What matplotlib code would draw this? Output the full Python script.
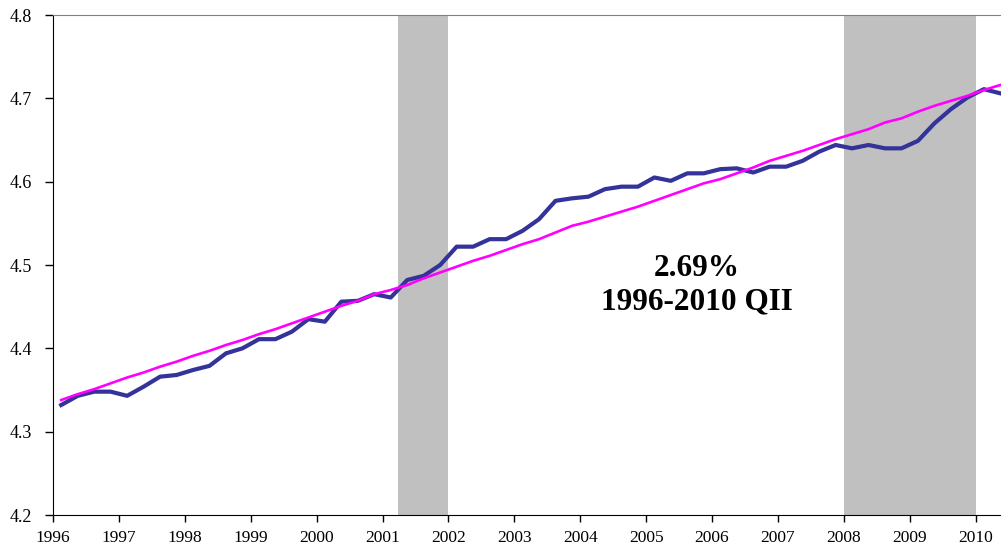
import numpy as np
import matplotlib
matplotlib.use('Agg')
import matplotlib.pyplot as plt

# quarterly data, 1996 QI .. 2010 QII (plotted at mid-quarter)
start_year = 1996
n_quarters = 58
log_gdp = [4.332, 4.343, 4.348, 4.348, 4.343, 4.354, 4.366, 4.368, 4.374, 4.379,
           4.394, 4.400, 4.411, 4.411, 4.420, 4.435, 4.432, 4.456, 4.457, 4.465,
           4.461, 4.482, 4.487, 4.500, 4.522, 4.522, 4.531, 4.531, 4.541, 4.555,
           4.577, 4.580, 4.582, 4.591, 4.594, 4.594, 4.605, 4.601, 4.610, 4.610,
           4.615, 4.616, 4.611, 4.618, 4.618, 4.625, 4.636, 4.644, 4.640, 4.644,
           4.640, 4.640, 4.649, 4.670, 4.687, 4.701, 4.711, 4.706]
trend = [4.338, 4.345, 4.351, 4.358, 4.365, 4.371, 4.378, 4.384, 4.391, 4.397,
         4.404, 4.410, 4.417, 4.423, 4.430, 4.437, 4.444, 4.451, 4.457, 4.465,
         4.470, 4.476, 4.484, 4.491, 4.498, 4.505, 4.511, 4.518, 4.525, 4.531,
         4.539, 4.547, 4.552, 4.558, 4.564, 4.570, 4.577, 4.584, 4.591, 4.598,
         4.603, 4.610, 4.617, 4.625, 4.631, 4.637, 4.644, 4.651, 4.657, 4.663,
         4.671, 4.676, 4.684, 4.691, 4.697, 4.703, 4.710, 4.716]
recessions = [(2001.23, 2002.0), (2008.0, 2010.0)]
year_ticks = list(range(1996, 2011))
y_ticks = [4.2, 4.3, 4.4, 4.5, 4.6, 4.7, 4.8]
label = '2.69%\n1996-2010 QII'

t = start_year + 0.125 + 0.25 * np.arange(n_quarters)

fig = plt.figure(figsize=(10.01, 5.52), dpi=100)
ax = fig.add_axes([53 / 1001, 1 - 515 / 552, 948 / 1001, 500 / 552])

for a, b in recessions:
    ax.axvspan(a, b, color='#c0c0c0', lw=0, zorder=1)

ax.plot(t, trend, color='#ff00ff', lw=1.9, zorder=3)
ax.plot(t, log_gdp, color='#333399', lw=3.0, zorder=2)

ax.set_xlim(1996, 2010.385)
ax.set_ylim(4.2, 4.8)
ax.set_xticks(year_ticks)
ax.set_xticklabels([str(y) for y in year_ticks])
ax.set_yticks(y_ticks)
ax.set_yticklabels(['%.1f' % v for v in y_ticks])

for lab in ax.get_xticklabels() + ax.get_yticklabels():
    lab.set_family('Liberation Serif')
for lab in ax.get_yticklabels():
    lab.set_fontsize(13)
for lab in ax.get_xticklabels():
    lab.set_fontsize(12.5)

ax.tick_params(axis='y', direction='out', length=6, width=1, pad=9)
ax.tick_params(axis='x', direction='out', length=5, width=1, pad=6)
ax.spines['right'].set_visible(False)
ax.spines['top'].set_color('#808080')
ax.spines['left'].set_color('black')
ax.spines['bottom'].set_color('black')

ax.text(2005.77, 4.476, label, ha='center', va='center', fontsize=22.5,
        fontweight='bold', family='Liberation Serif', linespacing=1.2, zorder=4)

fig.savefig('out.png', dpi=100)
